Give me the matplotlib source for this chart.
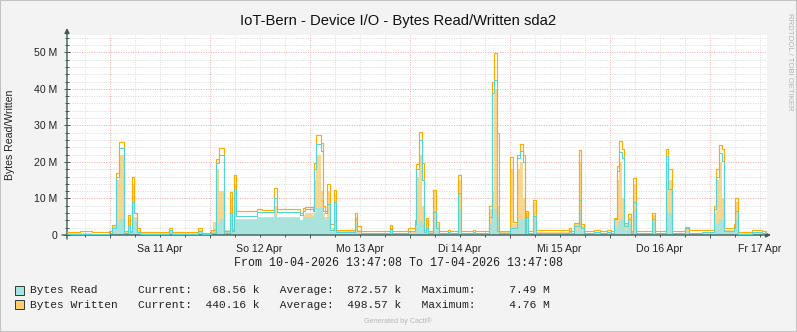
"""Redraw the Cacti/rrdtool weekly disk I/O graph for sda2 as a PNG."""

from __future__ import annotations

import matplotlib

matplotlib.use("Agg")

import matplotlib.pyplot as plt
import numpy as np
from matplotlib.patches import Rectangle
from matplotlib.transforms import blended_transform_factory

OUTPUT_PNG = "out.png"
FIG_W, FIG_H = 797, 332

TITLE = "IoT-Bern - Device I/O - Bytes Read/Written sda2"
Y_LABEL = "Bytes Read/Written"
RANGE_TEXT = "From 10-04-2026 13:47:08 To 17-04-2026 13:47:08"
WATERMARK = "RRDTOOL / TOBI OETIKER"
FOOTER = "Generated by Cacti®"

START_CLOCK_H = 13 + 47 / 60 + 8 / 3600  # time of day of the first sample
SPAN_H = 168
DAY_LABELS = ["Sa 11 Apr", "So 12 Apr", "Mo 13 Apr", "Di 14 Apr",
              "Mi 15 Apr", "Do 16 Apr", "Fr 17 Apr"]
Y_TICKS_M = [0, 10, 20, 30, 40, 50]
Y_TICK_LABELS = ["0", "10 M", "20 M", "30 M", "40 M", "50 M"]

# step data, hours since start; values in MB/s
HOURS = [
    0.0, 3.0, 6.0, 10.0, 10.8, 11.8, 12.4, 13.7, 14.6, 15.1, 15.6, 16.1,
    16.8, 17.5, 24.5, 25.2, 31.4, 32.4, 34.5, 35.0, 35.8, 36.5, 37.7, 39.1,
    39.6, 40.1, 40.6, 45.6, 46.8, 49.7, 50.4, 55.9, 56.6, 57.1, 59.0, 59.3,
    59.8, 61.0, 61.4, 61.9, 62.4, 63.1, 64.1, 64.6, 69.1, 69.6, 70.6, 77.5,
    78.0, 81.8, 83.5, 83.8, 84.5, 85.2, 85.7, 86.2, 86.6, 87.8, 88.6, 89.3,
    91.4, 92.0, 93.8, 94.6, 97.4, 98.0, 101.3, 102.0, 102.5, 103.2, 103.7, 106.3,
    107.0, 108.0, 108.7, 109.4, 109.9, 110.2, 110.6, 111.8, 112.6, 120.5, 121.0, 121.7,
    122.9, 123.4, 124.1, 126.5, 127.9, 129.6, 130.6, 131.3, 132.0, 132.5, 133.2, 133.7,
    134.6, 135.4, 135.8, 136.6, 140.4, 141.1, 143.8, 144.2, 145.2, 148.3, 149.3, 152.4,
    155.3, 155.8, 156.5, 157.2, 157.7, 160.1, 160.3, 161.0, 164.4, 166.8,
]
WRITTEN_LINE = [
    0.9, 1.0, 0.8, 1.2, 2.7, 17.0, 25.4, 1.2, 5.5, 1.2, 16.0, 6.0,
    1.9, 0.9, 2.0, 0.9, 1.9, 0.6, 1.3, 1.3, 20.8, 23.7, 1.2, 11.8,
    1.5, 16.3, 6.6, 7.2, 6.9, 12.8, 7.1, 6.0, 7.5, 7.7, 7.3, 19.8,
    27.3, 25.3, 8.0, 6.6, 13.9, 2.9, 12.3, 1.4, 5.9, 2.5, 1.2, 2.6,
    1.2, 1.8, 4.0, 19.5, 28.1, 19.6, 1.4, 4.6, 1.2, 12.3, 3.6, 1.0,
    1.5, 1.0, 16.4, 1.0, 1.4, 1.0, 7.8, 42.0, 49.8, 1.2, 1.2, 21.4,
    3.6, 22.0, 24.9, 22.0, 1.2, 6.6, 1.2, 9.7, 1.4, 2.0, 1.2, 3.4,
    23.2, 2.9, 1.1, 1.4, 1.1, 1.5, 1.1, 4.7, 18.9, 25.6, 23.5, 3.4,
    5.7, 1.1, 15.5, 1.1, 6.1, 1.1, 23.5, 18.0, 1.1, 2.3, 1.3, 1.5,
    7.9, 18.0, 24.5, 23.6, 2.0, 2.9, 10.2, 0.8, 1.5, 1.1,
]
READ_LINE = [
    0.4, 0.4, 0.4, 0.6, 2.0, 16.0, 23.7, 0.6, 2.5, 0.8, 9.0, 6.0,
    0.8, 0.4, 1.5, 0.4, 1.2, 0.3, 0.6, 0.6, 19.8, 22.0, 0.6, 6.0,
    1.0, 12.5, 5.3, 6.3, 6.2, 10.0, 6.3, 5.5, 6.6, 7.0, 6.6, 18.0,
    25.0, 23.0, 6.6, 6.0, 8.6, 1.5, 8.9, 0.8, 4.3, 1.2, 0.6, 1.6,
    0.6, 1.0, 3.0, 18.0, 26.0, 15.0, 0.8, 2.0, 0.6, 6.4, 2.0, 0.5,
    0.8, 0.5, 11.4, 0.5, 0.8, 0.5, 5.0, 38.8, 42.5, 28.0, 0.6, 2.0,
    2.0, 21.0, 23.0, 20.0, 0.6, 5.0, 0.6, 5.2, 0.6, 1.2, 0.5, 2.5,
    9.5, 2.0, 0.5, 0.7, 0.5, 0.8, 0.5, 4.3, 17.5, 22.8, 21.0, 2.5,
    4.3, 0.6, 8.9, 0.5, 4.3, 0.5, 21.6, 12.5, 0.5, 1.8, 0.6, 0.7,
    7.0, 16.0, 22.4, 20.3, 1.2, 1.8, 6.6, 0.4, 0.7, 0.5,
]
WRITTEN_AREA = [
    0.5, 0.5, 0.4, 0.6, 2.8, 15.0, 22.0, 1.0, 5.0, 1.0, 14.0, 5.0,
    1.5, 0.5, 1.5, 0.5, 1.5, 0.3, 0.8, 3.5, 18.0, 12.0, 1.5, 10.0,
    2.0, 14.0, 4.3, 4.8, 4.9, 8.0, 5.0, 4.2, 5.6, 6.0, 5.6, 15.0,
    22.0, 12.0, 6.0, 5.0, 12.0, 2.0, 11.0, 1.0, 5.0, 1.5, 0.6, 2.0,
    0.6, 1.0, 3.0, 16.0, 22.0, 8.0, 1.5, 4.0, 0.8, 12.0, 3.0, 0.5,
    0.8, 0.5, 15.0, 0.5, 0.8, 0.5, 7.0, 12.0, 40.0, 8.0, 0.8, 18.0,
    3.0, 18.0, 20.0, 10.0, 1.0, 6.0, 0.6, 9.0, 0.8, 1.5, 0.6, 3.0,
    20.0, 2.5, 0.6, 0.8, 0.6, 0.8, 0.6, 4.0, 15.0, 20.0, 10.0, 3.0,
    5.0, 0.8, 14.0, 0.6, 5.5, 0.6, 20.0, 15.0, 0.6, 2.0, 0.6, 0.8,
    6.0, 15.0, 20.0, 10.0, 1.5, 2.5, 9.0, 0.5, 0.8, 0.6,
]
READ_AREA = [
    0.2, 0.2, 0.2, 0.3, 1.5, 3.0, 4.4, 0.4, 2.0, 0.5, 6.0, 4.0,
    0.5, 0.2, 1.0, 0.2, 0.8, 0.2, 0.4, 2.0, 3.0, 4.5, 0.8, 4.0,
    1.0, 7.0, 4.1, 4.6, 4.6, 5.5, 4.6, 4.0, 4.8, 5.0, 4.8, 6.0,
    7.5, 7.5, 5.0, 4.0, 5.0, 0.8, 4.0, 0.4, 3.0, 0.6, 0.3, 1.0,
    0.3, 0.5, 1.5, 3.0, 4.0, 3.0, 0.8, 1.5, 0.4, 5.0, 1.5, 0.3,
    0.4, 0.3, 7.0, 0.3, 0.4, 0.3, 3.0, 5.0, 7.0, 5.0, 0.4, 1.5,
    1.5, 4.0, 4.5, 4.0, 0.5, 3.0, 0.3, 5.0, 0.3, 0.8, 0.3, 1.5,
    7.0, 1.2, 0.3, 0.4, 0.3, 0.4, 0.3, 2.0, 3.0, 4.0, 4.0, 1.5,
    3.0, 0.4, 6.5, 0.3, 3.5, 0.3, 7.0, 6.0, 0.3, 1.0, 0.3, 0.4,
    2.0, 3.0, 4.5, 4.0, 0.8, 1.0, 4.0, 0.2, 0.4, 0.3,
]

LEGEND_NAMES = ["Bytes Read", "Bytes Written"]
LEGEND_CURRENT = ["68.56 k", "440.16 k"]
LEGEND_AVERAGE = ["872.57 k", "498.57 k"]
LEGEND_MAXIMUM = ["7.49 M", "4.76 M"]

BG = "#F3F3F3"
AXIS_COLOR = "#3C5B57"
MINOR_GRID = "#D9D9D9"
MAJOR_GRID = "#F2A7A7"
WRITE_LINE_C = "#FFAC00"
READ_LINE_C = "#52D6D2"
WRITE_FILL_C = "#F8CD78"
READ_FILL_C = "#A3E5E2"
SANS = ["Liberation Sans", "DejaVu Sans"]
MONO = ["Liberation Mono", "DejaVu Sans Mono"]


def _px(x: float, y: float) -> tuple[float, float]:
    """Image pixel (top-left origin) to figure fraction."""
    return x / FIG_W, 1 - y / FIG_H


def _steps(values: list[float]) -> tuple[np.ndarray, np.ndarray]:
    x = np.array(HOURS + [SPAN_H], dtype=float)
    y = np.array(values + [values[-1]], dtype=float)
    return x, y


def _draw_series(ax) -> None:
    x, fw = _steps(WRITTEN_AREA)
    _, fr = _steps(READ_AREA)
    _, lw_ = _steps(WRITTEN_LINE)
    _, lr = _steps(READ_LINE)
    ax.fill_between(x, fw, 0, step="post", color=WRITE_FILL_C, alpha=0.8, lw=0, zorder=2)
    ax.fill_between(x, fr, 0, step="post", color=READ_FILL_C, alpha=0.92, lw=0, zorder=3)
    ax.step(x, lw_, where="post", color=WRITE_LINE_C, lw=0.85, zorder=4)
    ax.step(x, lr, where="post", color=READ_LINE_C, lw=0.75, zorder=5)


def _draw_axes(fig, ax) -> None:
    midnight0 = 24 - START_CLOCK_H
    six_h = np.arange((6 - START_CLOCK_H % 6) % 6, SPAN_H + 0.01, 6)
    midnights = np.arange(midnight0, SPAN_H, 24)
    noons = midnights + 12

    ax.set_xlim(0, SPAN_H)
    ax.set_ylim(0, 200 / 3.654)
    ax.set_xticks(midnights)
    ax.set_xticks(six_h, minor=True)
    ax.set_xticklabels([])
    ax.set_yticks(Y_TICKS_M)
    ax.set_yticks(np.arange(0, 55, 2), minor=True)
    ax.set_yticklabels(Y_TICK_LABELS, fontsize=7.6, family=SANS, color="#222222")
    ax.tick_params(which="both", direction="inout", color=AXIS_COLOR, width=0.7)
    ax.tick_params(which="major", length=4, pad=5)
    ax.tick_params(which="minor", length=2.5)
    ax.grid(which="minor", color=MINOR_GRID, linestyle=(0, (1, 1.5)), lw=0.7, zorder=1)
    ax.grid(which="major", color=MAJOR_GRID, linestyle=(0, (1, 1.5)), lw=0.7, zorder=1)
    ax.set_axisbelow(True)
    for sp in ax.spines.values():
        sp.set_visible(False)

    trans = blended_transform_factory(ax.transData, ax.transAxes)
    for pos, label in zip(noons, DAY_LABELS):
        ax.text(pos, -0.045, label, transform=trans, ha="center", va="top",
                fontsize=7.6, family=SANS, color="#222222")

    arrow = dict(arrowstyle="-|>", color=AXIS_COLOR, lw=1.0, mutation_scale=7,
                 shrinkA=0, shrinkB=0)
    ax.annotate("", xy=(1 + 4 / 700, 0), xytext=(-5 / 700, 0),
                xycoords="axes fraction", arrowprops=arrow, annotation_clip=False)
    ax.annotate("", xy=(0, 1 + 7 / 200), xytext=(0, -4 / 200),
                xycoords="axes fraction", arrowprops=arrow, annotation_clip=False)


def _draw_frame_text(fig) -> None:
    fig.text(*_px(398, 21), TITLE, ha="center", va="center", fontsize=10.6,
             family=SANS, color="#111111")
    fig.text(*_px(10, 135), Y_LABEL, ha="center", va="center", rotation=90,
             fontsize=7.6, family=SANS, color="#222222")
    fig.text(*_px(789, 62), WATERMARK, ha="center", va="center", rotation=270,
             fontsize=5.6, family=SANS, color="#B4B4B4")
    fig.text(*_px(398, 263), RANGE_TEXT, ha="center", va="center", fontsize=8.4,
             family=MONO, color="#222222")
    fig.text(*_px(398, 321), FOOTER, ha="center", va="center", fontsize=5.2,
             family=SANS, color="#B8B8B8")

    swatches = [READ_FILL_C, "#FFCC6E"]
    rows = zip(LEGEND_NAMES, LEGEND_CURRENT, LEGEND_AVERAGE, LEGEND_MAXIMUM, swatches)
    for i, (name, cur, avg, mx, col) in enumerate(rows):
        y = 290 + i * 14.5
        x0, y0 = _px(15, y + 4.5)
        fig.patches.append(Rectangle((x0, y0), 9 / FIG_W, 9 / FIG_H, transform=fig.transFigure,
                                     facecolor=col, edgecolor="#2E3B3A", lw=0.7))
        line = f"{name:<16}Current:{cur:>10}   Average:{avg:>10}   Maximum:{mx:>11}"
        fig.text(*_px(30, y), line, ha="left", va="center", fontsize=8.1,
                 family=MONO, color="#222222")

    fig.patches.append(Rectangle((0, 0), 1, 1, transform=fig.transFigure, fill=False,
                                 edgecolor="#C4C4C4", lw=1.5))


def main() -> None:
    assert len(HOURS) == len(WRITTEN_LINE) == len(READ_LINE) == len(WRITTEN_AREA) == len(READ_AREA)
    fig = plt.figure(figsize=(FIG_W / 100, FIG_H / 100), dpi=100, facecolor=BG)
    left, bottom = _px(67, 235)
    ax = fig.add_axes([left, bottom, 700 / FIG_W, 200 / FIG_H])
    ax.set_facecolor("white")
    _draw_series(ax)
    _draw_axes(fig, ax)
    _draw_frame_text(fig)
    fig.savefig(OUTPUT_PNG, dpi=100, facecolor=BG)
    plt.close(fig)


if __name__ == "__main__":
    main()
